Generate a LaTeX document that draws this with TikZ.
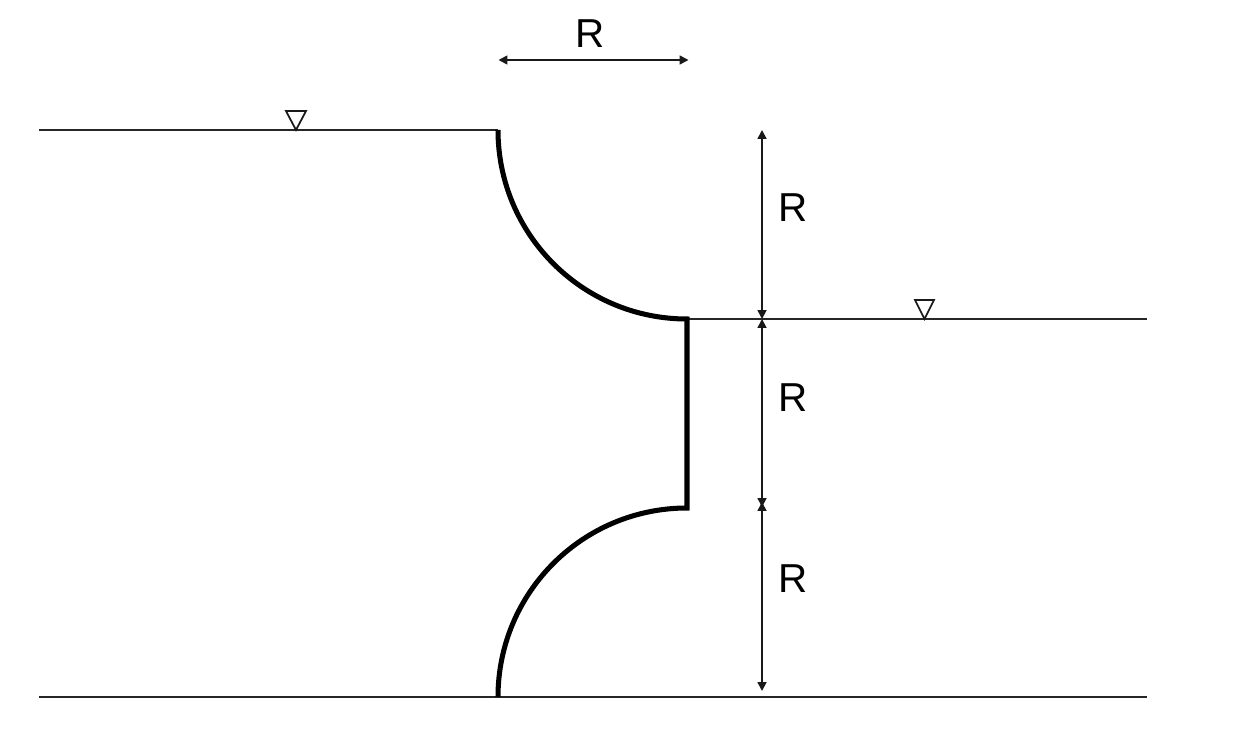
\documentclass[tikz,border=0pt]{standalone}
\usepackage{fontspec}
\setmainfont{Liberation Sans}
\usetikzlibrary{arrows.meta}
\tikzset{
  water/.style={line width=1.7pt,black!85},
  wall/.style={line width=4.3pt,black,line join=miter},
  dim/.style={line width=1.5pt,black!90,{Triangle[length=7.5pt,width=7.5pt]}-{Triangle[length=7.5pt,width=7.5pt]}},
  level/.style={line width=1.5pt,black!90,line join=miter},
  label/.style={inner sep=0pt,font=\fontsize{34.5}{34.5}\selectfont}
}
\begin{document}
\begin{tikzpicture}[x=0.03cm,y=-0.03cm]
        \useasboundingbox (0,0) rectangle (1243,734);

        \coordinate (TL) at (39,130);
        \coordinate (T) at (498,130);
        \coordinate (M) at (687,319);
        \coordinate (N) at (687,508);
        \coordinate (B) at (498,697);
        \coordinate (BL) at (39,697);
        \coordinate (MR) at (1147,319);
        \coordinate (BR) at (1147,697);

        % water surfaces and floor
        \draw [water] (TL) -- (T);
        \draw [water] (M) -- (MR);
        \draw [water] (BL) -- (BR);

        % profile
        \draw [wall] (T) arc [start angle=180, end angle=90, radius=189] -- (N)
            arc [start angle=270, end angle=180, radius=189];

        % level marks
        \draw [level] (286,111) -- (306,111) -- (296,130) -- cycle;
        \draw [level] (915,300) -- (934,300) -- (924.5,319) -- cycle;

        % dimensions
        \coordinate (D1) at (498.5,60);
        \coordinate (D2) at (688.5,60);
        \coordinate (V1) at (762,130);
        \coordinate (V2) at (762,319);
        \coordinate (V3) at (762,502);
        \coordinate (V4) at (762,507);
        \coordinate (V5) at (762,691);
        \draw [dim] (D1) -- (D2);
        \draw [dim] (V1) -- (V2);
        \draw [dim] (V2) -- (V4);
        \draw [dim] (V3) -- (V5);

        \node [label] (RA) at (590.5,34) {R};
        \node [label] (RB) at (793.5,208) {R};
        \node [label] (RC) at (793.5,397.5) {R};
        \node [label] (RD) at (793.5,579) {R};
\end{tikzpicture}
\end{document}
